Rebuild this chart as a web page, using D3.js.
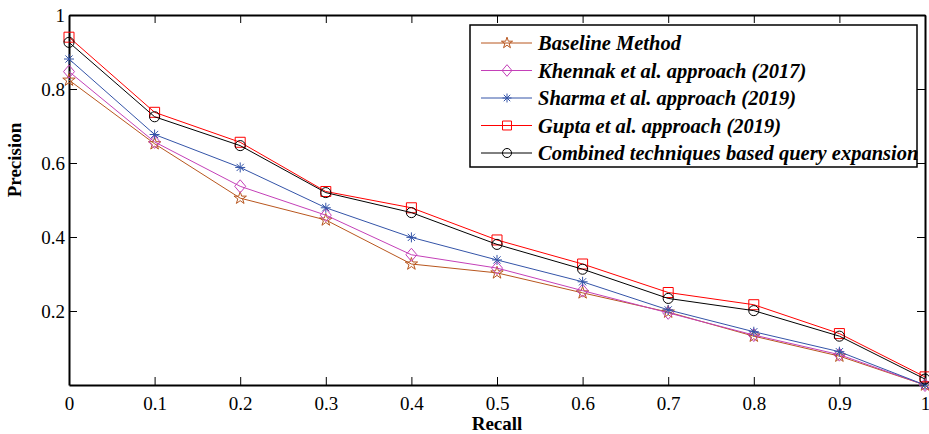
<!DOCTYPE html>
<html>
<head>
    <title>Precision vs Recall</title>
    <script src="https://d3js.org/d3.v7.min.js"></script>
    <style>
        body { margin: 0; background: #fff; }
        svg { display: block; font-family: "Liberation Serif", "Times New Roman", serif; }
        .tick text { font-size: 19px; fill: #000; }
        .lbl { font-size: 19px; font-weight: bold; }
        .leg { font-size: 20.5px; font-weight: bold; font-style: italic; }
    </style>
</head>
<body>
    <div id="chart"></div>

    <script>
        // recall levels and precision values per method
        const recall = [0, 0.1, 0.2, 0.3, 0.4, 0.5, 0.6, 0.7, 0.8, 0.9, 1];
        const baseline = [0.824, 0.652, 0.505, 0.446, 0.327, 0.303, 0.249, 0.197, 0.132, 0.078, 0];
        const khennak = [0.847, 0.657, 0.537, 0.459, 0.352, 0.316, 0.255, 0.195, 0.135, 0.082, 0];
        const sharma = [0.881, 0.677, 0.588, 0.479, 0.399, 0.338, 0.279, 0.203, 0.144, 0.09, 0];
        const gupta = [0.94, 0.737, 0.656, 0.523, 0.479, 0.392, 0.327, 0.25, 0.217, 0.139, 0.022];
        const combined = [0.926, 0.725, 0.647, 0.52, 0.466, 0.38, 0.313, 0.234, 0.201, 0.132, 0.016];

        const seriesNames = [
            "Baseline Method",
            "Khennak et al. approach (2017)",
            "Sharma et al. approach (2019)",
            "Gupta et al. approach (2019)",
            "Combined techniques based query expansion"
        ];
        const xTicks = [0, 0.1, 0.2, 0.3, 0.4, 0.5, 0.6, 0.7, 0.8, 0.9, 1];
        const yTicks = [0.2, 0.4, 0.6, 0.8, 1];

        const series = [
            { name: seriesNames[0], values: baseline, color: "#b8561e", marker: "star" },
            { name: seriesNames[1], values: khennak, color: "#c440b8", marker: "diamond" },
            { name: seriesNames[2], values: sharma, color: "#3454a8", marker: "asterisk" },
            { name: seriesNames[3], values: gupta, color: "#ff0000", marker: "square" },
            { name: seriesNames[4], values: combined, color: "#000000", marker: "circle" }
        ];

        const width = 929;
        const height = 434;
        const margin = { top: 15, right: 4, bottom: 49, left: 69 };
        const serif = '"Liberation Serif", "Times New Roman", serif';

        const svg = d3.select("#chart")
            .append("svg")
            .attr("width", width)
            .attr("height", height);

        const x = d3.scaleLinear().domain([0, 1]).range([margin.left, width - margin.right]);
        const y = d3.scaleLinear().domain([0, 1]).range([height - margin.bottom, margin.top]);

        // marker path generator
        function markerPath(type, s) {
            if (type === "star") return d3.symbol().type(d3.symbolStar).size(48 * s)();
            if (type === "square") return d3.symbol().type(d3.symbolSquare).size(100 * s)();
            if (type === "circle") return d3.symbol().type(d3.symbolCircle).size(80 * s)();
            if (type === "diamond") {
                const w = 5.5 * Math.sqrt(s), h = 6.5 * Math.sqrt(s);
                return `M0,${-h}L${w},0L0,${h}L${-w},0Z`;
            }
            // asterisk: plus + cross
            const r = 5 * Math.sqrt(s), d = r * 0.72;
            return `M${-r},0L${r},0M0,${-r}L0,${r}M${-d},${-d}L${d},${d}M${-d},${d}L${d},${-d}`;
        }

        // axes (inward ticks, box)
        const axBottom = svg.append("g")
            .attr("transform", `translate(0,${y(0)})`)
            .call(d3.axisBottom(x).tickValues(xTicks).tickFormat(d3.format("")).tickSizeInner(-8).tickSizeOuter(0));
        const axLeft = svg.append("g")
            .attr("transform", `translate(${x(0)},0)`)
            .call(d3.axisLeft(y).tickValues(yTicks).tickFormat(d3.format("")).tickSizeInner(-8).tickSizeOuter(0).tickPadding(4));
        const axTop = svg.append("g")
            .attr("transform", `translate(0,${y(1)})`)
            .call(d3.axisTop(x).tickValues(xTicks).tickFormat("").tickSizeInner(-8).tickSizeOuter(0));
        const axRight = svg.append("g")
            .attr("transform", `translate(${x(1)},0)`)
            .call(d3.axisRight(y).tickValues(yTicks).tickFormat("").tickSizeInner(-8).tickSizeOuter(0));

        [axBottom, axLeft, axTop, axRight].forEach(g => {
            g.attr("font-family", serif).attr("font-size", 19);
            g.select(".domain").attr("stroke", "#000").attr("stroke-width", 2);
            g.selectAll(".tick line").attr("stroke", "#000").attr("stroke-width", 1);
        });
        axBottom.selectAll(".tick text").attr("y", 25).attr("dy", 0);
        axLeft.selectAll(".tick text").attr("dy", "0.35em");

        // lines + markers
        const line = d3.line()
            .x((d, i) => x(recall[i]))
            .y(d => y(d));

        series.forEach(s => {
            svg.append("path")
                .datum(s.values)
                .attr("fill", "none")
                .attr("stroke", s.color)
                .attr("stroke-width", 1)
                .attr("d", line);

            svg.append("g")
                .selectAll("path")
                .data(s.values)
                .join("path")
                .attr("transform", (d, i) => `translate(${x(recall[i])},${y(d)})`)
                .attr("d", markerPath(s.marker, 1))
                .attr("fill", "none")
                .attr("stroke", s.color)
                .attr("stroke-width", 1);
        });

        // axis labels
        svg.append("text")
            .attr("class", "lbl")
            .attr("x", (x(0) + x(1)) / 2)
            .attr("y", 430)
            .attr("text-anchor", "middle")
            .text("Recall");

        svg.append("text")
            .attr("class", "lbl")
            .attr("transform", "translate(21,160) rotate(-90)")
            .attr("text-anchor", "middle")
            .text("Precision");

        // legend
        const legend = svg.append("g");
        legend.append("rect")
            .attr("x", 470).attr("y", 25)
            .attr("width", 447).attr("height", 142)
            .attr("fill", "#fff")
            .attr("stroke", "#000")
            .attr("stroke-width", 1.5);

        series.forEach((s, i) => {
            const ly = 43 + i * 27.5;
            legend.append("line")
                .attr("x1", 481).attr("x2", 532)
                .attr("y1", ly).attr("y2", ly)
                .attr("stroke", s.color)
                .attr("stroke-width", 1);
            legend.append("path")
                .attr("transform", `translate(507,${ly})`)
                .attr("d", markerPath(s.marker, 0.8))
                .attr("fill", "none")
                .attr("stroke", s.color)
                .attr("stroke-width", 1);
            legend.append("text")
                .attr("class", "leg")
                .attr("x", 538)
                .attr("y", ly)
                .attr("dy", "0.35em")
                .text(s.name);
        });
    </script>
</body>
</html>
